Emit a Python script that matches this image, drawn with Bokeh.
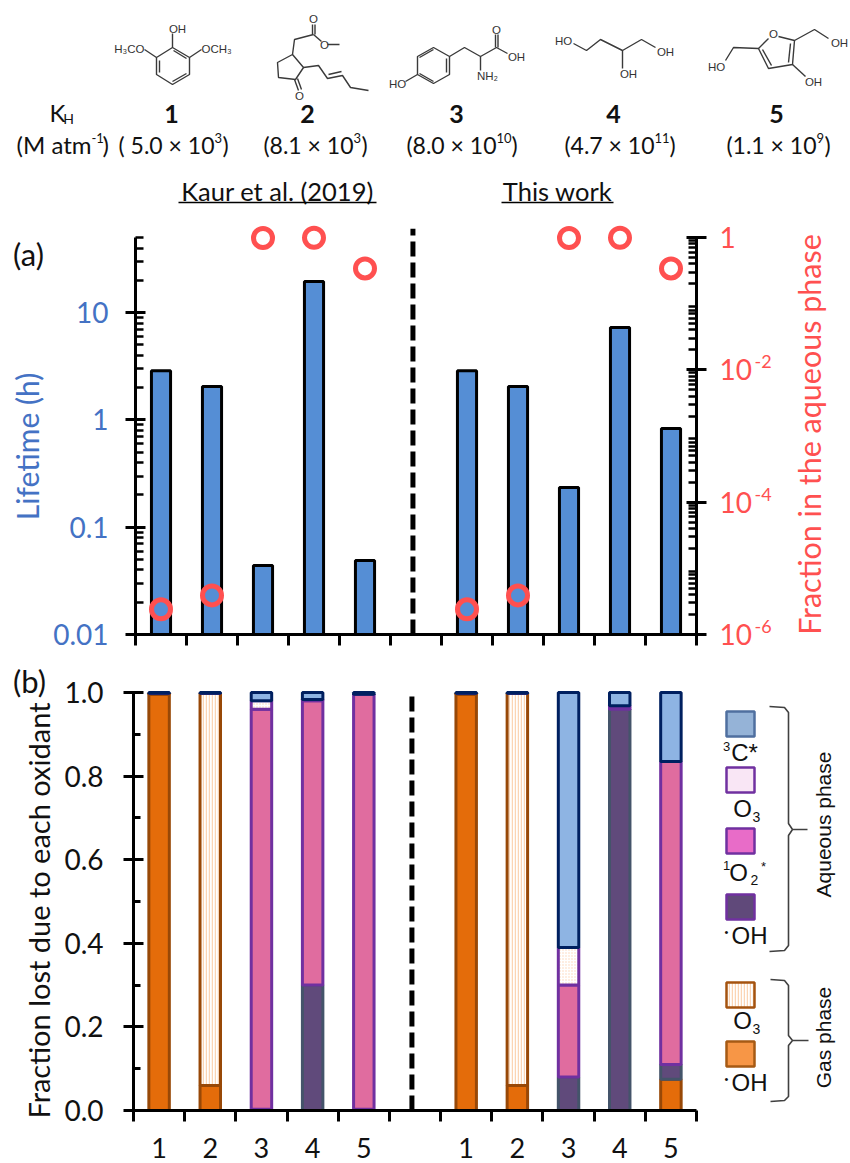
from bokeh.plotting import figure
from bokeh.models import (Range1d, LinearAxis, LogAxis, FixedTicker, LogScale)
from bokeh.layouts import column, row
from bokeh.embed import file_html
from bokeh.resources import INLINE
from bokeh.core.properties import value

# ---------- data ----------
compounds = ["1", "2", "3", "4", "5"]
khs = [("( 5.0 × 10", "3"), ("(8.1 × 10", "3"), ("(8.0 × 10", "10"), ("(4.7 × 10", "11"), ("(1.1 × 10", "9")]
groups = ["Kaur et al. (2019)", "This work"]
lifetime = [2.88, 2.05, 0.044, 19.5, 0.049, 2.88, 2.05, 0.234, 7.25, 0.83]
fraction_aq = [2.4e-6, 3.9e-6, 0.98, 0.99, 0.34, 2.4e-6, 3.9e-6, 0.98, 0.99, 0.34]
gas_oh = [.995, .06, 0, 0, 0, .995, .06, 0, 0, .075]
gas_o3 = [.003, .938, 0, 0, 0, .003, .938, 0, 0, 0]
aq_oh  = [0, 0, .003, .30, .003, 0, 0, .08, .96, .035]
aq_1o2 = [0, 0, .957, .68, .992, 0, 0, .22, .005, .725]
aq_o3  = [0, 0, .02, .003, .001, 0, 0, .09, .003, 0]
aq_3c  = [.002, .002, .02, .017, .004, .002, .002, .61, .032, .165]
life_ticks = [0.01, 0.1, 1, 10]
life_labels = ["0.01", "0.1", "1", "10"]
frac_ticks = [1e-6, 1e-4, 1e-2, 1]
frac_labels = ["10", "10", "10", "1"]
frac_sups = ["-6", "-4", "-2"]
fr_ticks = [0.0, 0.2, 0.4, 0.6, 0.8, 1.0]

xs = [i + 1 for i in range(5)] + [i + 7 for i in range(5)]
tick_names = compounds + compounds
bounds_x = [i + 0.5 for i in range(12)]

LATO = "Lato"
ARIAL = "Liberation Sans"
BLUE = "#4472c4"
RED = "#ff5050"
INK = "#111111"

def bare(fig):
    fig.outline_line_color = None
    fig.grid.visible = False
    fig.background_fill_color = None
    fig.border_fill_color = None

def page_fig(x0, x1, y0, y1):
    """A figure without axes whose ranges are page pixels."""
    f = figure(width=x1 - x0, height=y1 - y0, x_range=Range1d(x0, x1), y_range=Range1d(y1, y0), x_axis_location=None,
               y_axis_location=None, toolbar_location=None, output_backend="svg", min_border=0, frame_align=False)
    bare(f)
    return f

def ptext(fig, x, y, t, size, color=INK, align="center", font=LATO, angle=0, style="normal"):
    fig.text([x], [y], text=[t], text_font=value(font), text_font_size=value(f"{size}px"), text_color=color,
             text_align=align, text_baseline="middle", angle=angle, angle_units="deg", text_font_style=style)

# ---------- header ----------
TOP_H = 215
h = page_fig(0, 850, 0, TOP_H)

bonds = [
    # 1
    [(172, 47), (189, 57), (189, 74), (172, 84), (156, 74), (156, 57), (172, 47), (172, 33)],
    [(159, 60), (159, 72)], [(172, 81), (186, 73)], [(173, 50), (186, 58)],
    [(156, 57), (144, 49)], [(189, 57), (201, 49)],
    # 2
    [(312, 24), (312, 34)], [(314.5, 24), (314.5, 34)], [(313, 34), (294, 39), (292, 54), (303, 67), (295, 79), (278, 77), (277, 62), (292, 54)],
    [(313, 34), (321, 41)], [(327, 44), (339, 44)], [(294, 79), (298, 90)], [(297, 78), (301, 89)],
    [(303, 67), (318, 65), (327, 78), (342, 75), (350, 87), (368, 90)], [(328, 74), (341, 71)],
    # 3
    [(433, 47), (449, 56), (449, 74), (433, 83), (417, 74), (417, 56), (433, 47)],
    [(419, 57), (433, 49)], [(446, 58), (446, 72)], [(419, 73), (433, 81)],
    [(417, 74), (405, 81)], [(449, 56), (464, 47), (480, 56), (496, 47), (507, 53)], [(480, 56), (480, 70)],
    [(495, 34), (495, 47)], [(497.5, 34), (497.5, 47)],
    # 4
    [(573, 43), (586, 50), (600, 39), (622, 50), (641, 39), (655, 47)], [(622, 50), (622, 68)],
    # 5
    [(768, 38), (758, 48), (768, 68), (792, 64), (794, 40), (778, 36)], [(762, 49), (771, 65)], [(790, 43), (788, 62)],
    [(758, 48), (733, 47), (725, 60)], [(794, 40), (814, 29), (828, 38)], [(792, 64), (805, 76)],
]
h.multi_line([[p[0] for p in b] for b in bonds], [[p[1] for p in b] for b in bonds], line_color="#3a3a3a", line_width=1.4)
atoms = [("OH", 177, 28), ("H₃CO", 144, 48), ("OCH₃", 201, 48), ("O", 313, 18), ("O", 324, 44), ("O", 299, 95),
         ("HO", 397, 83), ("O", 496, 29), ("OH", 516, 56), ("NH₂", 487, 75),
         ("HO", 563, 40), ("OH", 665, 51), ("OH", 628, 73),
         ("O", 773, 33), ("HO", 716, 66), ("OH", 839, 42), ("OH", 813, 81)]
for t, x, y in atoms:
    anchor = "right" if t == "H₃CO" else "left" if t == "OCH₃" else "center"
    ptext(h, x, y, t, 11.5, "#333333", anchor, ARIAL)

ptext(h, 57, 112, "K", 24)
ptext(h, 68, 118, "H", 14)
ptext(h, 91, 144, "(M atm", 24, align="right")
ptext(h, 91, 137, "-1", 13, align="left")
ptext(h, 102, 144, ")", 24, align="left")

for x, c in zip([171, 307, 456, 613, 776], compounds):
    ptext(h, x, 113, c, 25, style="bold")
ends = [214, 353, 496, 654, 816]
for e, (base, sup) in zip(ends, khs):
    ptext(h, e, 144, base, 23, align="right")
    ptext(h, e, 137, sup, 13, align="left")
    ptext(h, e + 7 * len(sup) + 1, 144, ")", 23, align="left")

for cx, g, x0, x1 in zip([277, 557], groups, [178, 501], [376, 613]):
    ptext(h, cx, 190, g, 25.5)
    h.line([x0, x1], [202, 202], line_color="black", line_width=1.6)

# ---------- panel (a) ----------
A_TOP = TOP_H
A_H = 445
A_SIDE = 50
a = figure(width=704, height=A_H, x_range=Range1d(0.5, 11.5), y_range=Range1d(0.01, 69.2), y_axis_type="log",
           x_axis_location=None, y_axis_location=None, toolbar_location=None, output_backend="svg",
           min_border_left=83, min_border_right=58, min_border_top=7, min_border_bottom=26, frame_align=False)
bare(a)
a.extra_y_ranges = {"frac": Range1d(1e-6, 1.68)}
a.extra_y_scales = {"frac": LogScale()}
a.vbar(x=xs, top=lifetime, bottom=0.01, width=0.375, fill_color="#558ed5", line_color="black", line_width=3)
a.line([5.94, 5.94], [0.01, 60.6], line_color="black", line_width=5, line_dash="15 6")
a.scatter(xs, fraction_aq, y_range_name="frac", marker="circle", size=19, fill_color=None, line_color=RED, line_width=5)

def decade_minors(lo, hi):
    out = []
    for e in range(lo, hi):
        for m in range(2, 10):
            out.append(m * 10.0 ** e)
    return out

left = LogAxis(ticker=FixedTicker(ticks=life_ticks, minor_ticks=[v for v in decade_minors(-2, 2) if v <= 50]),
               bounds=(0.01, 50), major_label_overrides=dict(zip(life_ticks, life_labels)))
right = LogAxis(y_range_name="frac", ticker=FixedTicker(ticks=frac_ticks, minor_ticks=decade_minors(-6, 0)),
                bounds=(1e-6, 1), major_label_overrides=dict(zip(frac_ticks, frac_labels)))
for ax, col, sd in ((left, BLUE, 17), (right, RED, 13)):
    ax.axis_line_width = 3
    ax.major_tick_line_width = 3
    ax.minor_tick_line_width = 2.5
    ax.major_tick_in = 10
    ax.major_tick_out = 10
    ax.major_label_standoff = sd
    ax.major_label_text_color = col
    ax.major_label_text_font = LATO
    ax.major_label_text_font_size = "28px"
    ax.minor_tick_in = 8
    ax.minor_tick_out = 0
a.add_layout(left, "left")
a.add_layout(right, "right")

def bottom_axis(fig, ticks, overrides):
    ax = LinearAxis(ticker=FixedTicker(ticks=ticks, minor_ticks=bounds_x), bounds=(0.5, 11.5),
                    major_label_overrides=overrides)
    ax.axis_line_width = 3
    ax.major_tick_line_color = None
    ax.major_tick_in = 0
    ax.major_tick_out = 0
    ax.minor_tick_line_width = 3
    ax.minor_tick_in = 0
    ax.minor_tick_out = 11
    ax.major_label_standoff = 16
    ax.major_label_text_color = INK
    ax.major_label_text_font = LATO
    ax.major_label_text_font_size = "27px"
    fig.add_layout(ax, "below")

bottom_axis(a, [], {})

a_left = page_fig(0, A_SIDE, A_TOP, A_TOP + A_H)
ptext(a_left, 28, 253, "(a)", 31)
ptext(a_left, 26, 446, "Lifetime (h)", 30, BLUE, angle=90)
a_right = page_fig(754, 850, A_TOP, A_TOP + A_H)
ptext(a_right, 808, 434, "Fraction in the aqueous phase", 30.5, RED, angle=90)
for s, v in zip(frac_sups, [634, 502, 369]):
    ptext(a_right, 754, v - 8, s, 18, RED, align="left")

# ---------- panel (b) ----------
B_TOP = A_TOP + A_H
B_H = 503
B_SIDE = 60
b = figure(width=700 - B_SIDE, height=B_H, x_range=Range1d(0.5, 11.5), y_range=Range1d(0, 1.0167),
           x_axis_location=None, y_axis_location=None, toolbar_location=None, output_backend="svg",
           min_border_left=133 - B_SIDE, min_border_right=4, min_border_top=25, min_border_bottom=53, frame_align=False)
bare(b)
stack = [
    (gas_oh, "#e46c0a", "#984807", None, None),
    (gas_o3, "white", "#984807", "vertical_line", "#fbd5b5"),
    (aq_oh, "#604a7b", "#44546a", None, None),
    (aq_1o2, "#e06c9f", "#7030a0", None, None),
    (aq_o3, "white", "#7030a0", "dot", "#fbd5b5"),
    (aq_3c, "#8eb4e3", "#002060", None, None),
]
base = [0.0] * len(xs)
for series, fill, stroke, hatch, hcol in stack:
    tops = [u + v for u, v in zip(base, series)]
    kw = dict(hatch_pattern=hatch, hatch_color=hcol, hatch_scale=3, hatch_weight=1.5) if hatch else {}
    b.vbar(x=xs, bottom=base, top=tops, width=0.4, fill_color=fill, line_color=stroke, line_width=3, **kw)
    base = tops
b.line([5.94, 5.94], [0, 1], line_color="black", line_width=5, line_dash="15 6")

yax = LinearAxis(ticker=FixedTicker(ticks=fr_ticks, minor_ticks=[0.1, 0.3, 0.5, 0.7, 0.9]), bounds=(0, 1),
                 major_label_overrides={t: f"{t:.1f}" for t in fr_ticks})
yax.axis_line_width = 3
yax.major_tick_line_width = 3
yax.minor_tick_line_width = 3
yax.major_tick_in = 10
yax.major_tick_out = 10
yax.minor_tick_in = 7
yax.minor_tick_out = 0
yax.major_label_standoff = 20
yax.major_label_text_color = INK
yax.major_label_text_font = LATO
yax.major_label_text_font_size = "28px"
b.add_layout(yax, "left")
bottom_axis(b, xs, dict(zip(xs, tick_names)))

b_left = page_fig(0, B_SIDE, B_TOP, B_TOP + B_H)
ptext(b_left, 29, 680, "(b)", 31)
ptext(b_left, 38, 910, "Fraction lost due to each oxidant", 29, angle=90)

# ---------- legend (page pixel coordinates) ----------
l = page_fig(700, 850, B_TOP, B_TOP + B_H)
swatches = [(711, "#95b3d7", "#4f6f9f", None), (767, "#f9e6f5", "#7030a0", None), (828, "#e86cc8", "#7030a0", None),
            (894, "#60497a", "#7030a0", None), (982, "white", "#a5530f", "vertical_line"), (1041, "#f79646", "#a65a14", None)]
for y0, fill, stroke, hatch in swatches:
    kw = dict(hatch_pattern=hatch, hatch_color="#fbd5b5", hatch_scale=3, hatch_weight=1.5) if hatch else {}
    l.quad(left=[726], right=[754], top=[y0], bottom=[y0 + 25], fill_color=fill, line_color=stroke, line_width=2.5, **kw)
ptext(l, 726, 746, "3", 13, font=ARIAL)
ptext(l, 744, 752, "C*", 24, font=ARIAL)
ptext(l, 742, 808, "O", 24, font=ARIAL)
ptext(l, 756, 816, "3", 14, font=ARIAL)
ptext(l, 726, 865, "1", 13, font=ARIAL)
ptext(l, 738, 872, "O", 24, font=ARIAL)
ptext(l, 754, 879, "2", 14, font=ARIAL)
ptext(l, 763, 866, "*", 13, font=ARIAL)
ptext(l, 726, 931, "•", 11, font=ARIAL)
ptext(l, 749, 935, "OH", 24, font=ARIAL)
ptext(l, 742, 1020, "O", 24, font=ARIAL)
ptext(l, 756, 1028, "3", 14, font=ARIAL)
ptext(l, 726, 1078, "•", 11, font=ARIAL)
ptext(l, 749, 1082, "OH", 24, font=ARIAL)
braces = [[(769, 706), (784, 707), (788, 712), (788, 823), (792, 829), (807, 829), (792, 829), (788, 835), (788, 945), (784, 950), (769, 951)],
          [(770, 979), (784, 980), (788, 985), (788, 1035), (792, 1040), (808, 1040), (792, 1040), (788, 1045), (788, 1096), (784, 1100), (770, 1101)]]
for br in braces:
    l.line([p[0] for p in br], [p[1] for p in br], line_color="#404040", line_width=1.6)
ptext(l, 823, 824, "Aqueous phase", 21, font=ARIAL, angle=90)
ptext(l, 823, 1037, "Gas phase", 21, font=ARIAL, angle=90)

page = column(h, row(a_left, a, a_right, spacing=0), row(b_left, b, l, spacing=0), spacing=0)
open("out.html", "w").write(file_html(page, INLINE))
